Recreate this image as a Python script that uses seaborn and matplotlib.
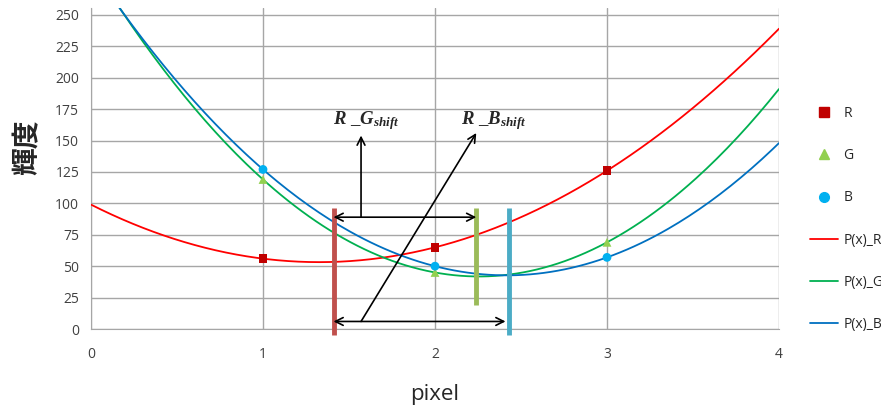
import numpy as np
import pandas as pd
import matplotlib
matplotlib.use("Agg")
import matplotlib.pyplot as plt
import seaborn as sns
from matplotlib.lines import Line2D

# measured values
pixels = [1, 2, 3]
r_vals = [56, 65, 126]
g_vals = [119, 45, 69]
b_vals = [127, 50, 57]
channels = ["R", "G", "B"]
fit_labels = ["P(x)_R", "P(x)_G", "P(x)_B"]

# shift marker positions (pixel, bottom, top)
shift_bars = {"R": (1.41, -5, 96), "G": (2.24, 19, 96), "B": (2.43, -5, 96)}

marker_colors = {"R": "#C00000", "G": "#92D050", "B": "#00B0F0"}
line_colors = {"R": "#FF0000", "G": "#00B050", "B": "#0070C0"}
bar_colors = {"R": "#C0504D", "G": "#9BBB59", "B": "#4BACC6"}
markers = {"R": "s", "G": "^", "B": "o"}

pts = pd.DataFrame({
    "pixel": pixels * 3,
    "value": r_vals + g_vals + b_vals,
    "ch": ["R"] * 3 + ["G"] * 3 + ["B"] * 3,
})

# 2nd order polynomial trendlines
xs = np.linspace(0, 4, 200)
fits = []
for ch, vals in zip(channels, [r_vals, g_vals, b_vals]):
    coef = np.polyfit(pixels, vals, 2)
    fits.append(pd.DataFrame({"pixel": xs, "value": np.polyval(coef, xs), "ch": ch}))
fits = pd.concat(fits)

sns.set_style("white")
plt.rcParams["font.family"] = ["Open Sans", "DejaVu Sans"]
plt.rcParams["mathtext.fontset"] = "custom"
plt.rcParams["mathtext.it"] = "Liberation Serif:italic:bold"
plt.rcParams["mathtext.rm"] = "Liberation Serif:bold"

fig = plt.figure(figsize=(8.81, 4.11), dpi=100)
ax = fig.add_axes([91 / 881, 82 / 411, 688 / 881, 321 / 411])

sns.lineplot(data=fits, x="pixel", y="value", hue="ch", palette=line_colors,
             linewidth=1.3, legend=False, ax=ax, zorder=3)
for ch in channels:
    sns.scatterplot(data=pts[pts.ch == ch], x="pixel", y="value", color=marker_colors[ch],
                    marker=markers[ch], s=40, edgecolor="none", legend=False, ax=ax, zorder=4)

# shift bars
for ch, (x, y0, y1) in shift_bars.items():
    ax.plot([x, x], [y0, y1], color=bar_colors[ch], linewidth=3.5, solid_capstyle="butt",
            zorder=5, clip_on=False)

arrow = dict(arrowstyle="<->", color="black", lw=1.2, mutation_scale=14, shrinkA=0, shrinkB=0)
ax.annotate("", xy=(2.24, 89), xytext=(1.41, 89), arrowprops=arrow, zorder=6)
ax.annotate("", xy=(2.41, 6), xytext=(1.41, 6), arrowprops=arrow, zorder=6)
up = dict(arrowstyle="->", color="black", lw=1.2, mutation_scale=14, shrinkA=0, shrinkB=0)
ax.annotate("", xy=(1.57, 154), xytext=(1.57, 89), arrowprops=up, zorder=6)
ax.annotate("", xy=(2.24, 156), xytext=(1.57, 6), arrowprops=up, zorder=6)

ax.text(1.6, 166, r"$R\ \_G_{shift}$", ha="center", va="center", fontsize=13.5)
ax.text(2.34, 166, r"$R\ \_B_{shift}$", ha="center", va="center", fontsize=13.5)

ax.set_xlim(0, 4)
ax.set_ylim(0, 255.5)
ax.set_xticks([0, 1, 2, 3, 4])
ax.set_yticks(range(0, 251, 25))
ax.grid(True, color="#A6A6A6", linewidth=1)
ax.set_axisbelow(True)
for s in ["top", "right"]:
    ax.spines[s].set_visible(False)
for s in ["left", "bottom"]:
    ax.spines[s].set_color("#A6A6A6")
ax.tick_params(axis="both", length=5, color="#A6A6A6", labelsize=10, labelcolor="#404040")
ax.tick_params(axis="x", pad=8)

ax.set_xlabel("pixel", fontsize=16, labelpad=16)
ax.set_ylabel("輝度", fontsize=20, fontweight="bold",
              family=["Noto Sans CJK JP", "DejaVu Sans"])
ax.yaxis.set_label_coords(-0.072, 0.567)

handles = [Line2D([], [], linestyle="none", marker=markers[c], color=marker_colors[c],
                  markersize=7) for c in channels]
handles += [Line2D([], [], color=line_colors[c], linewidth=1.3) for c in channels]
fig.legend(handles, channels + fit_labels, loc="upper left", bbox_to_anchor=(0.913, 0.755),
           frameon=False, fontsize=10, labelspacing=1.95, handlelength=2.0,
           handletextpad=0.4, borderaxespad=0)

fig.savefig("out.png", dpi=100)
